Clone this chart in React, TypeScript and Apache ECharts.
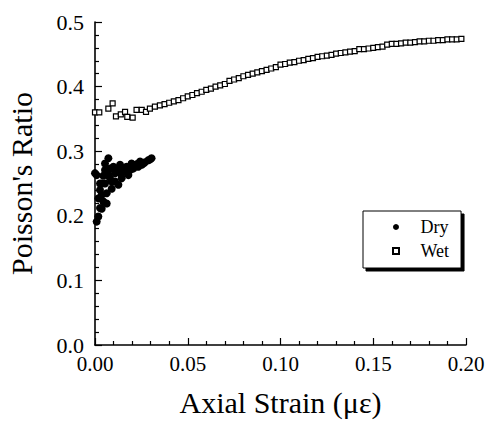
import React, { useEffect, useRef } from "react";
import * as echarts from "echarts";

const xTicks = [0, 0.05, 0.1, 0.15, 0.2];
const yTicks = [0, 0.1, 0.2, 0.3, 0.4, 0.5];

const dryStrain = [
  0.0, 0.0009, 0.0027, 0.0018, 0.0036, 0.0018, 0.0009, 0.0063, 0.0063, 0.009,
  0.0054, 0.0081, 0.0108, 0.0108, 0.0135, 0.016, 0.0189, 0.0206, 0.0233, 0.026,
  0.0287, 0.0305, 0.0054, 0.0081, 0.0099, 0.0135, 0.017, 0.0197, 0.0243, 0.0036,
  0.0126, 0.0144, 0.018, 0.0072, 0.0054, 0.0045, 0.0072, 0.0117, 0.0153, 0.0215,
  0.027, 0.0295, 0.0225, 0.0252, 0.0027, 0.0045, 0.0036, 0.009, 0.0027,
];
const dryRatio = [
  0.266, 0.263, 0.24, 0.227, 0.211, 0.199, 0.191, 0.219, 0.235, 0.242,
  0.25, 0.258, 0.253, 0.266, 0.266, 0.268, 0.271, 0.273, 0.276, 0.281,
  0.286, 0.289, 0.271, 0.273, 0.276, 0.279, 0.276, 0.281, 0.284, 0.25,
  0.248, 0.258, 0.263, 0.289, 0.281, 0.262, 0.264, 0.27, 0.272, 0.278,
  0.283, 0.287, 0.28, 0.279, 0.212, 0.222, 0.232, 0.253, 0.25,
];

const wetStrain = [
  0.0, 0.0023, 0.0072, 0.0095, 0.0113, 0.0139, 0.0162, 0.0174, 0.0203, 0.0224,
  0.0252, 0.0275, 0.0296, 0.0323, 0.035, 0.0375, 0.04, 0.0425, 0.045, 0.0475,
  0.05, 0.0525, 0.055, 0.0575, 0.06, 0.0625, 0.065, 0.0675, 0.07, 0.0725,
  0.075, 0.0775, 0.08, 0.0825, 0.085, 0.0875, 0.09, 0.0925, 0.095, 0.0975,
  0.1, 0.1025, 0.105, 0.1075, 0.11, 0.1125, 0.115, 0.1175, 0.12, 0.1225,
  0.125, 0.1275, 0.13, 0.1325, 0.135, 0.1375, 0.14, 0.1425, 0.145, 0.1475,
  0.15, 0.1525, 0.155, 0.1575, 0.16, 0.1625, 0.165, 0.1675, 0.17, 0.1725,
  0.175, 0.1775, 0.18, 0.1825, 0.185, 0.1875, 0.19, 0.1925, 0.195, 0.1975,
];
const wetRatio = [
  0.36, 0.36, 0.366, 0.374, 0.354, 0.357, 0.361, 0.353, 0.352, 0.364,
  0.364, 0.361, 0.366, 0.369, 0.371, 0.373, 0.375, 0.377, 0.379, 0.382,
  0.385, 0.387, 0.39, 0.392, 0.395, 0.397, 0.4, 0.402, 0.404, 0.409,
  0.411, 0.413, 0.416, 0.418, 0.42, 0.422, 0.424, 0.426, 0.428, 0.43,
  0.434, 0.435, 0.437, 0.438, 0.44, 0.441, 0.443, 0.444, 0.446, 0.447,
  0.448, 0.449, 0.451, 0.452, 0.453, 0.454, 0.455, 0.458, 0.458, 0.459,
  0.46, 0.461, 0.462, 0.465, 0.466, 0.466, 0.467, 0.468, 0.468, 0.469,
  0.47, 0.47, 0.471, 0.471, 0.472, 0.472, 0.473, 0.473, 0.473, 0.474,
];

const FONT = "'Liberation Serif', 'Times New Roman', serif";

export default function App() {
  const ref = useRef<HTMLDivElement>(null);
  useEffect(() => {
    if (!ref.current) return;
    const chart = echarts.init(ref.current, undefined, { renderer: "svg" });
    const dry = dryStrain.map((x, i) => [x, dryRatio[i]]);
    const wet = wetStrain.map((x, i) => [x, wetRatio[i]]);
    chart.setOption({
      animation: false,
      backgroundColor: "#fff",
      textStyle: { fontFamily: FONT, color: "#000" },
      grid: { left: 95, right: 21, top: 22, bottom: 76, containLabel: false, outerBoundsMode: "none" },
      xAxis: {
        type: "value",
        min: xTicks[0],
        max: xTicks[xTicks.length - 1],
        interval: 0.05,
        name: "Axial Strain (με)",
        nameLocation: "middle",
        nameGap: 42,
        nameTextStyle: { fontFamily: FONT, fontSize: 30, color: "#000" },
        axisLine: { show: true, lineStyle: { color: "#000", width: 1.6 } },
        axisTick: { show: true, inside: true, length: 7, lineStyle: { color: "#000", width: 1.2 } },
        minorTick: { show: true, splitNumber: 5, length: 4, lineStyle: { color: "#000", width: 1.2 } },
        axisLabel: {
          fontFamily: FONT,
          fontSize: 21,
          color: "#000",
          margin: 8,
          formatter: (v: number) => v.toFixed(2),
        },
        splitLine: { show: false },
      },
      yAxis: {
        type: "value",
        min: yTicks[0],
        max: yTicks[yTicks.length - 1],
        interval: 0.1,
        name: "Poisson's Ratio",
        nameLocation: "middle",
        nameGap: 59,
        nameRotate: 90,
        nameTextStyle: { fontFamily: FONT, fontSize: 30, color: "#000" },
        axisLine: { show: true, lineStyle: { color: "#000", width: 1.6 } },
        axisTick: { show: true, inside: true, length: 7, lineStyle: { color: "#000", width: 1.2 } },
        minorTick: { show: true, splitNumber: 5, length: 4, lineStyle: { color: "#000", width: 1.2 } },
        axisLabel: {
          fontFamily: FONT,
          fontSize: 22,
          color: "#000",
          margin: 11,
          formatter: (v: number) => v.toFixed(1),
        },
        splitLine: { show: false },
      },
      legend: {
        orient: "vertical",
        left: 363,
        top: 211,
        padding: [7, 12, 8, 29],
        itemGap: 6,
        itemWidth: 39,
        itemHeight: 6,
        backgroundColor: "#fff",
        borderColor: "#000",
        borderWidth: 1,
        borderRadius: 0,
        shadowColor: "#000",
        shadowBlur: 0,
        shadowOffsetX: 3,
        shadowOffsetY: 3,
        textStyle: { fontFamily: FONT, fontSize: 18, color: "#000" },
        data: [
          { name: "Dry", icon: "circle" },
          { name: "Wet", icon: "path://M0,0L10,0L10,10L0,10Z" },
        ],
      },
      series: [
        {
          name: "Dry",
          type: "scatter",
          data: dry,
          symbol: "circle",
          symbolSize: 8,
          itemStyle: { color: "#000", opacity: 1 },
        },
        {
          name: "Wet",
          type: "scatter",
          data: wet,
          symbol: "rect",
          symbolSize: 5,
          itemStyle: { color: "#fff", borderColor: "#000", borderWidth: 1.2, opacity: 1 },
        },
      ],
    });
    return () => chart.dispose();
  }, []);
  return (
    <div
      ref={ref}
      style={{ position: "fixed", left: 0, top: 0, width: 487, height: 421 }}
    />
  );
}
